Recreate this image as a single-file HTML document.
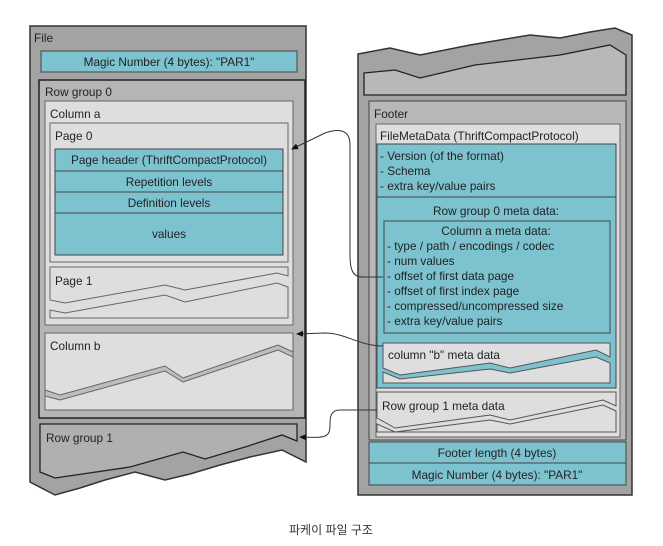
<!DOCTYPE html>
<html><head><meta charset="utf-8"><style>
html,body{margin:0;padding:0;background:#fff;width:663px;height:546px;overflow:hidden}
svg text{font-family:"Liberation Sans",sans-serif;font-size:11.8px;fill:#222}
.cap{font-family:"Liberation Sans","Noto Sans CJK KR",sans-serif;font-size:12px;fill:#333}
</style></head><body>
<svg width="663" height="546" viewBox="0 0 663 546" xmlns="http://www.w3.org/2000/svg">
<defs><marker id="ah" markerWidth="8" markerHeight="8" refX="6" refY="4" orient="auto"><path d="M0,1 L7,4 L0,7 z" fill="#111"/></marker></defs>
<path d="M30,26 L306,26 L306,462 L282,450 L250,457 L220,465 L190,474 L165,480 L135,472 L105,480 L80,488 L55,495 L30,482 Z" fill="#a3a3a3" stroke="#333" stroke-width="1.5"/>
<text x="34" y="42">File</text>
<rect x="41" y="51" width="256" height="21" fill="#7cc3cf" stroke="#444"/>
<text x="169" y="66" text-anchor="middle">Magic Number (4 bytes): "PAR1"</text>
<rect x="39" y="80" width="266" height="338" fill="#b5b5b5" stroke="#222" stroke-width="1.5"/>
<text x="45" y="96">Row group 0</text>
<rect x="45" y="101" width="248" height="224" fill="#dedede" stroke="#666"/>
<text x="50" y="118">Column a</text>
<rect x="50" y="123" width="238" height="139" fill="#dedede" stroke="#666"/>
<text x="55" y="140">Page 0</text>
<rect x="55" y="149" width="228" height="22" fill="#7cc3cf" stroke="#444"/>
<rect x="55" y="171" width="228" height="21" fill="#7cc3cf" stroke="#444"/>
<rect x="55" y="192" width="228" height="21" fill="#7cc3cf" stroke="#444"/>
<rect x="55" y="213" width="228" height="42" fill="#7cc3cf" stroke="#444"/>
<text x="169" y="164" text-anchor="middle">Page header (ThriftCompactProtocol)</text>
<text x="169" y="186" text-anchor="middle">Repetition levels</text>
<text x="169" y="207" text-anchor="middle">Definition levels</text>
<text x="169" y="238" text-anchor="middle">values</text>
<path d="M50,267 L288,267 L288,276 L277,273 L185,290 L165,285 L65,303 L50,300 Z" fill="#dedede" stroke="#666"/>
<path d="M50,310 L65,313 L165,295 L185,302 L277,283 L288,287 L288,318 L50,318 Z" fill="#dedede" stroke="#666"/>
<text x="55" y="285">Page 1</text>
<rect x="45" y="333" width="248" height="77" fill="#dedede" stroke="#666"/>
<path d="M45,390 L60,395 L165,366 L183,378 L278,345 L293,352 L293,357 L278,350 L183,382 L165,371 L60,400 L45,396 Z" fill="#bdbdbd" stroke="#666"/>
<text x="50" y="350">Column b</text>
<path d="M40,424 L297,424 L297,441 L282,435 L245,447 L205,459 L183,452 L130,467 L55,478 L40,472 Z" fill="#b0b0b0" stroke="#222" stroke-width="1.3"/>
<text x="46" y="442">Row group 1</text>
<path d="M358,54 L390,48 L420,55 L470,45 L500,40 L530,35 L560,38 L590,32 L615,28 L632,35 L632,495 L358,495 Z" fill="#a3a3a3" stroke="#333" stroke-width="1.5"/>
<path d="M364,73 L395,70 L420,78 L475,65 L560,55 L610,45 L626,55 L626,95 L364,95 Z" fill="#b8b8b8" stroke="#222" stroke-width="1.3"/>
<rect x="369" y="101" width="257" height="339" fill="#b8b8b8" stroke="#444"/>
<text x="374" y="118">Footer</text>
<rect x="376" y="124" width="244" height="313" fill="#dedede" stroke="#666"/>
<text x="380" y="140">FileMetaData (ThriftCompactProtocol)</text>
<rect x="377" y="144" width="239" height="244" fill="#7cc3cf" stroke="#444"/>
<line x1="377" y1="197" x2="616" y2="197" stroke="#444"/>
<text x="380" y="160">- Version (of the format)</text>
<text x="380" y="175">- Schema</text>
<text x="380" y="190">- extra key/value pairs</text>
<text x="496" y="215" text-anchor="middle">Row group 0 meta data:</text>
<rect x="384" y="221" width="226" height="112" fill="#7cc3cf" stroke="#444"/>
<text x="496" y="235" text-anchor="middle">Column a meta data:</text>
<text x="387" y="250">- type / path / encodings / codec</text>
<text x="387" y="265">- num values</text>
<text x="387" y="280">- offset of first data page</text>
<text x="387" y="295">- offset of first index page</text>
<text x="387" y="310">- compressed/uncompressed size</text>
<text x="387" y="325">- extra key/value pairs</text>
<path d="M383,343 L610,343 L610,357 L596,350 L510,368 L490,363 L400,375 L383,368 Z" fill="#dedede" stroke="#555"/>
<path d="M383,372 L400,379 L490,369 L510,373 L596,357 L610,363 L610,383 L383,383 Z" fill="#dedede" stroke="#555"/>
<text x="388" y="359">column "b" meta data</text>
<path d="M377,392 L616,392 L616,406 L603,400 L510,420 L490,415 L395,428 L377,418 Z" fill="#dedede" stroke="#555"/>
<path d="M377,424 L395,432 L490,420 L510,424 L603,405 L616,411 L616,432 L377,432 Z" fill="#dedede" stroke="#555"/>
<text x="382" y="410">Row group 1 meta data</text>
<rect x="369" y="442" width="257" height="21" fill="#7cc3cf" stroke="#444"/>
<rect x="369" y="463" width="257" height="22" fill="#7cc3cf" stroke="#444"/>
<text x="497" y="457" text-anchor="middle">Footer length (4 bytes)</text>
<text x="497" y="479" text-anchor="middle">Magic Number (4 bytes): "PAR1"</text>
<path d="M383,277 L362,277 C352,277 350,268 350,255 L350,145 C350,130 340,128 325,133 L292,149" fill="none" stroke="#333" marker-end="url(#ah)"/>
<path d="M383,346 C360,346 345,333 325,333 L297,334" fill="none" stroke="#333" marker-end="url(#ah)"/>
<path d="M377,410 L340,410 C330,410 330,418 330,425 C330,438 325,438 300,437" fill="none" stroke="#333" marker-end="url(#ah)"/>
<text class="cap" x="331" y="534" text-anchor="middle">파케이 파일 구조</text>
</svg>
</body></html>
